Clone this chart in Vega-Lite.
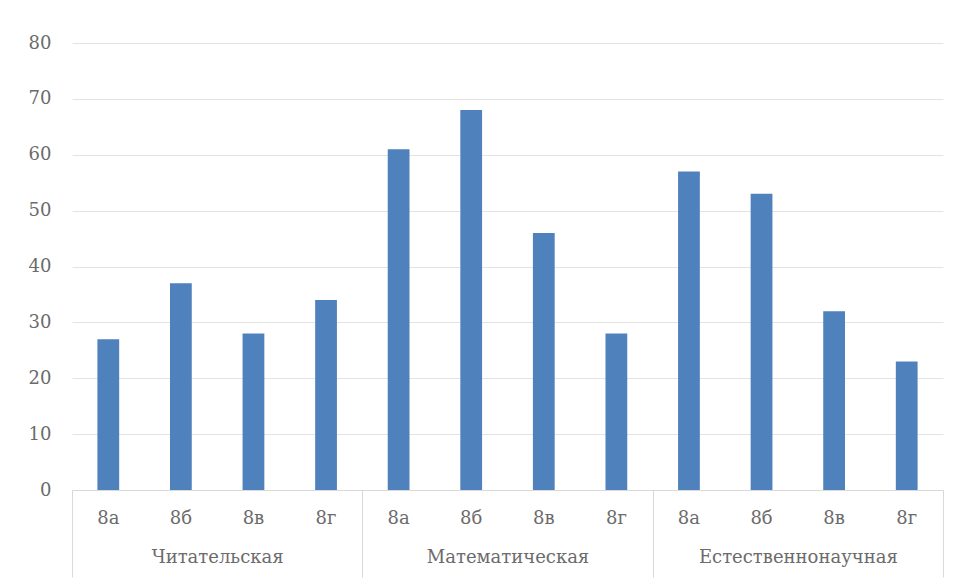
{
  "$schema": "https://vega.github.io/schema/vega-lite/v6.json",
  "width": 871,
  "height": 447,
  "autosize": "none",
  "padding": {"left": 72, "top": 43, "right": 14, "bottom": 93},
  "background": "white",
  "config": {
    "view": {"stroke": null},
    "font": "DejaVu Serif",
    "axis": {"labelFont": "DejaVu Serif", "labelColor": "#6b6b6b", "labelFontSize": 18, "labelFontWeight": "normal", "labelLimit": 0}
  },
  "data": {
    "values": [
      {"group": "Читательская", "class": "8а", "key": "Читательская 8а", "value": 27},
      {"group": "Читательская", "class": "8б", "key": "Читательская 8б", "value": 37},
      {"group": "Читательская", "class": "8в", "key": "Читательская 8в", "value": 28},
      {"group": "Читательская", "class": "8г", "key": "Читательская 8г", "value": 34},
      {"group": "Математическая", "class": "8а", "key": "Математическая 8а", "value": 61},
      {"group": "Математическая", "class": "8б", "key": "Математическая 8б", "value": 68},
      {"group": "Математическая", "class": "8в", "key": "Математическая 8в", "value": 46},
      {"group": "Математическая", "class": "8г", "key": "Математическая 8г", "value": 28},
      {"group": "Естественнонаучная", "class": "8а", "key": "Естественнонаучная 8а", "value": 57},
      {"group": "Естественнонаучная", "class": "8б", "key": "Естественнонаучная 8б", "value": 53},
      {"group": "Естественнонаучная", "class": "8в", "key": "Естественнонаучная 8в", "value": 32},
      {"group": "Естественнонаучная", "class": "8г", "key": "Естественнонаучная 8г", "value": 23}
    ]
  },
  "layer": [
    {
      "mark": {"type": "bar", "color": "#4f81bd", "width": {"band": 0.3}},
      "encoding": {
        "x": {
          "field": "key", "type": "nominal", "sort": null,
          "scale": {"paddingInner": 0, "paddingOuter": 0},
          "axis": {
            "orient": "bottom", "title": null, "ticks": false,
            "domain": true, "domainColor": "#d9d9d9", "domainWidth": 1,
            "labelFont": "DejaVu Serif",
            "labelExpr": "split(datum.label, ' ')[1]",
            "labelAngle": 0, "labelPadding": 19, "labelBaseline": "top"
          }
        },
        "y": {
          "field": "value", "type": "quantitative",
          "scale": {"domain": [0, 80], "nice": false},
          "axis": {
            "title": null, "values": [0, 10, 20, 30, 40, 50, 60, 70, 80],
            "labelFont": "DejaVu Serif",
            "domain": false, "ticks": false, "tickSize": 0, "labelPadding": 21,
            "grid": true, "gridColor": "#e3e3e3", "gridWidth": 1
          }
        }
      }
    },
    {
      "mark": {"type": "point", "opacity": 0},
      "encoding": {
        "x": {
          "field": "group", "type": "nominal", "sort": null,
          "scale": {"paddingInner": 0, "paddingOuter": 0},
          "axis": {
            "orient": "bottom", "title": null, "domain": false,
            "labelFont": "DejaVu Serif", "labelLimit": 0,
            "ticks": true, "tickBand": "extent", "tickSize": 87,
            "tickColor": "#d9d9d9", "tickWidth": 1,
            "labelAngle": 0, "labelPadding": -29, "labelBaseline": "top"
          }
        },
        "y": {"field": "value", "type": "quantitative"}
      }
    }
  ],
  "resolve": {"scale": {"x": "independent"}, "axis": {"x": "independent"}}
}
